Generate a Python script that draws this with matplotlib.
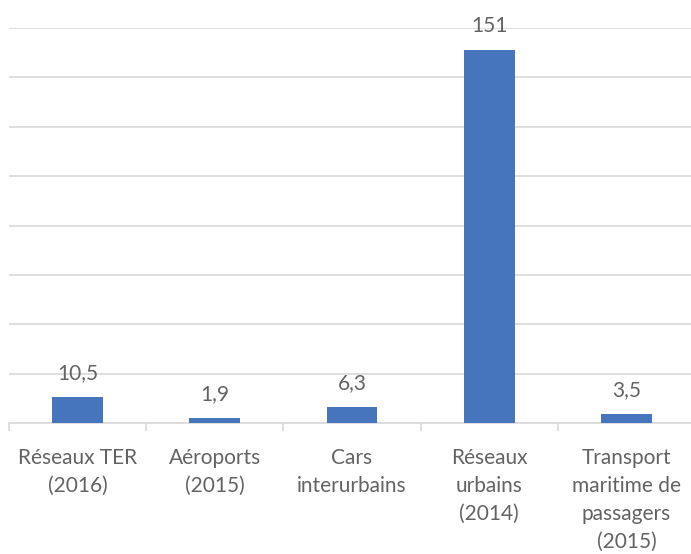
import matplotlib
matplotlib.use("Agg")
import matplotlib.pyplot as plt
import numpy as np

categories = [
    "Réseaux TER\n(2016)",
    "Aéroports\n(2015)",
    "Cars\ninterurbains",
    "Réseaux\nurbains\n(2014)",
    "Transport\nmaritime de\npassagers\n(2015)",
]
values = [10.5, 1.9, 6.3, 151, 3.5]
value_labels = ["10,5", "1,9", "6,3", "151", "3,5"]

plt.rcParams["font.family"] = ["Lato", "DejaVu Sans"]
text_color = "#636363"
grid_color = "#d9d9d9"
bar_color = "#4675bd"

fig = plt.figure(figsize=(6.91, 5.54), dpi=100)
W, H = 691, 554
ax = fig.add_axes([9 / W, (554 - 423) / H, 686 / W, 395 / H])

x = np.arange(len(categories))
bars = ax.bar(x, values, width=0.37, color=bar_color, zorder=3)

ax.set_xlim(-0.5, len(categories) - 0.5)
ax.set_ylim(0, 160)
ax.set_yticks(np.arange(0, 161, 20))
ax.yaxis.grid(True, color=grid_color, linewidth=1.2, zorder=0)
ax.tick_params(axis="y", left=False, labelleft=False)

ax.set_xticks(x)
ax.set_xticklabels(categories, fontsize=15, color=text_color, linespacing=1.5)
ax.set_xticks(np.arange(-0.5, len(categories)), minor=True)
ax.tick_params(axis="x", which="major", length=0, pad=18)
ax.tick_params(axis="x", which="minor", length=6, width=1.2, color=grid_color,
               direction="out")

for side in ("top", "right", "left"):
    ax.spines[side].set_visible(False)
ax.spines["bottom"].set_color(grid_color)
ax.spines["bottom"].set_linewidth(1.2)

for b, lab in zip(bars, value_labels):
    ax.annotate(lab, (b.get_x() + b.get_width() / 2, b.get_height()),
                xytext=(0, 10), textcoords="offset points", ha="center",
                va="bottom", fontsize=15, color=text_color, zorder=4)

fig.savefig("out.png", dpi=100)
